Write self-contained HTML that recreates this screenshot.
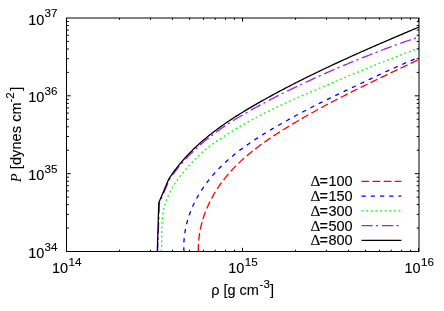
<!DOCTYPE html>
<html><head><meta charset="utf-8"><title>plot</title>
<style>
html,body{margin:0;padding:0;background:#fff;}
body{width:444px;height:311px;overflow:hidden;position:relative;}
svg text{font-family:"Liberation Sans",sans-serif;fill:#000;stroke:#000;stroke-width:0.12px;}
</style></head><body>
<svg width="444" height="311" viewBox="0 0 444 311" style="position:absolute;left:0;top:0;display:block;will-change:transform">
<path d="M198.36,251.76 L198.33,250.15 L198.34,248.55 L198.36,246.96 L198.41,245.37 L198.49,243.78 L198.59,242.20 L198.72,240.62 L198.87,239.05 L199.04,237.49 L199.24,235.93 L199.46,234.38 L199.71,232.83 L199.97,231.29 L200.27,229.76 L200.58,228.23 L200.91,226.71 L201.27,225.19 L201.65,223.69 L202.05,222.18 L202.47,220.69 L202.91,219.20 L203.38,217.72 L203.86,216.25 L204.37,214.78 L204.89,213.33 L205.43,211.88 L205.99,210.43 L206.58,209.00 L207.18,207.58 L207.80,206.16 L208.43,204.75 L209.09,203.35 L209.76,201.96 L210.46,200.57 L211.16,199.20 L211.89,197.83 L212.63,196.48 L213.39,195.13 L214.17,193.79 L214.96,192.47 L215.76,191.15 L216.59,189.84 L217.42,188.54 L218.28,187.25 L219.15,185.97 L220.03,184.71 L220.92,183.45 L221.83,182.20 L222.76,180.97 L223.70,179.74 L224.65,178.53 L225.61,177.32 L226.59,176.13 L227.57,174.95 L228.58,173.78 L229.59,172.62 L230.61,171.48 L231.65,170.34 L232.70,169.21 L233.76,168.09 L234.83,166.99 L235.91,165.89 L237.00,164.80 L238.10,163.73 L239.21,162.66 L240.33,161.60 L241.46,160.55 L242.60,159.51 L243.75,158.48 L244.90,157.46 L246.07,156.44 L247.25,155.44 L248.43,154.44 L249.62,153.45 L250.82,152.47 L252.02,151.50 L253.24,150.53 L254.46,149.57 L255.69,148.62 L256.92,147.68 L258.16,146.74 L259.41,145.81 L260.66,144.89 L261.92,143.97 L263.18,143.06 L264.45,142.16 L265.73,141.26 L267.01,140.37 L268.29,139.49 L269.58,138.61 L270.87,137.73 L272.17,136.87 L273.47,136.00 L274.77,135.14 L276.08,134.29 L277.39,133.44 L278.70,132.60 L280.02,131.76 L281.34,130.92 L282.66,130.09 L283.98,129.27 L285.30,128.44 L286.63,127.62 L287.96,126.81 L289.28,126.00 L290.61,125.19 L291.95,124.38 L293.28,123.58 L294.61,122.78 L295.95,121.99 L297.29,121.20 L298.63,120.41 L299.97,119.63 L301.31,118.85 L302.65,118.07 L304.00,117.29 L305.35,116.52 L306.69,115.76 L308.04,114.99 L309.39,114.23 L310.74,113.47 L312.10,112.71 L313.45,111.96 L314.81,111.21 L316.16,110.46 L317.52,109.71 L318.88,108.97 L320.24,108.23 L321.60,107.49 L322.96,106.76 L324.33,106.03 L325.69,105.30 L327.06,104.57 L328.43,103.84 L329.79,103.12 L331.16,102.40 L332.53,101.68 L333.90,100.96 L335.28,100.25 L336.65,99.54 L338.02,98.83 L339.40,98.12 L340.78,97.41 L342.15,96.71 L343.53,96.00 L344.91,95.30 L346.29,94.60 L347.67,93.91 L349.05,93.21 L350.44,92.52 L351.82,91.82 L353.20,91.13 L354.59,90.44 L355.97,89.75 L357.36,89.07 L358.75,88.38 L360.14,87.70 L361.53,87.01 L362.92,86.33 L364.31,85.65 L365.70,84.97 L367.09,84.29 L368.48,83.61 L369.87,82.94 L371.27,82.26 L372.66,81.59 L374.06,80.91 L375.45,80.24 L376.85,79.57 L378.24,78.89 L379.64,78.22 L381.04,77.55 L382.44,76.88 L383.84,76.21 L385.23,75.54 L386.63,74.87 L388.03,74.20 L389.43,73.54 L390.83,72.87 L392.24,72.20 L393.64,71.53 L395.04,70.86 L396.44,70.20 L397.84,69.53 L399.25,68.86 L400.65,68.19 L402.05,67.53 L403.46,66.86 L404.86,66.19 L406.26,65.52 L407.67,64.85 L409.07,64.18 L410.48,63.52 L411.88,62.85 L413.29,62.18 L414.69,61.50 L416.10,60.83 L417.50,60.16 L418.91,59.49" fill="none" stroke="#ff0000" stroke-width="1.3" stroke-dasharray="7.7,3.4" stroke-linejoin="round"/>
<path d="M183.97,251.65 L183.89,249.98 L183.83,248.32 L183.81,246.66 L183.82,245.01 L183.86,243.36 L183.93,241.72 L184.03,240.09 L184.16,238.45 L184.32,236.83 L184.51,235.21 L184.72,233.60 L184.97,231.99 L185.24,230.39 L185.53,228.80 L185.86,227.21 L186.21,225.63 L186.58,224.06 L186.98,222.49 L187.41,220.93 L187.86,219.38 L188.34,217.84 L188.84,216.30 L189.37,214.77 L189.91,213.26 L190.48,211.74 L191.08,210.24 L191.69,208.75 L192.33,207.26 L192.99,205.79 L193.67,204.32 L194.38,202.86 L195.10,201.41 L195.84,199.98 L196.60,198.55 L197.39,197.13 L198.19,195.72 L199.01,194.32 L199.84,192.93 L200.70,191.55 L201.57,190.19 L202.46,188.83 L203.37,187.48 L204.30,186.15 L205.24,184.83 L206.19,183.52 L207.17,182.22 L208.15,180.93 L209.15,179.65 L210.17,178.39 L211.20,177.14 L212.24,175.90 L213.30,174.67 L214.37,173.46 L215.45,172.25 L216.55,171.07 L217.65,169.89 L218.77,168.72 L219.90,167.57 L221.04,166.43 L222.20,165.30 L223.36,164.18 L224.53,163.08 L225.72,161.98 L226.91,160.90 L228.12,159.82 L229.33,158.76 L230.56,157.70 L231.79,156.66 L233.04,155.63 L234.29,154.60 L235.55,153.59 L236.82,152.58 L238.09,151.59 L239.38,150.60 L240.67,149.62 L241.97,148.65 L243.28,147.69 L244.59,146.74 L245.91,145.79 L247.24,144.85 L248.57,143.92 L249.91,143.00 L251.25,142.08 L252.60,141.18 L253.96,140.28 L255.32,139.38 L256.69,138.49 L258.06,137.61 L259.43,136.73 L260.81,135.86 L262.19,135.00 L263.58,134.14 L264.97,133.29 L266.36,132.44 L267.75,131.60 L269.15,130.76 L270.55,129.93 L271.95,129.10 L273.36,128.27 L274.76,127.45 L276.17,126.64 L277.58,125.82 L278.99,125.01 L280.40,124.21 L281.81,123.40 L283.23,122.60 L284.64,121.81 L286.05,121.01 L287.47,120.22 L288.88,119.44 L290.30,118.65 L291.72,117.87 L293.14,117.09 L294.56,116.32 L295.98,115.55 L297.40,114.78 L298.82,114.01 L300.25,113.25 L301.67,112.49 L303.10,111.74 L304.53,110.98 L305.96,110.23 L307.39,109.48 L308.83,108.74 L310.26,108.00 L311.70,107.26 L313.13,106.52 L314.57,105.79 L316.02,105.06 L317.46,104.33 L318.90,103.60 L320.35,102.88 L321.80,102.16 L323.25,101.44 L324.70,100.73 L326.16,100.01 L327.61,99.30 L329.07,98.60 L330.53,97.89 L331.99,97.18 L333.45,96.48 L334.91,95.78 L336.37,95.08 L337.84,94.38 L339.30,93.68 L340.77,92.99 L342.23,92.29 L343.70,91.59 L345.16,90.90 L346.63,90.20 L348.10,89.51 L349.57,88.81 L351.03,88.12 L352.50,87.43 L353.97,86.73 L355.43,86.03 L356.90,85.34 L358.37,84.64 L359.83,83.95 L361.30,83.25 L362.77,82.55 L364.23,81.86 L365.70,81.16 L367.17,80.47 L368.63,79.77 L370.10,79.08 L371.57,78.39 L373.04,77.70 L374.50,77.01 L375.97,76.32 L377.44,75.63 L378.91,74.94 L380.38,74.26 L381.85,73.57 L383.32,72.89 L384.80,72.21 L386.27,71.53 L387.74,70.85 L389.22,70.18 L390.69,69.51 L392.17,68.84 L393.65,68.17 L395.12,67.51 L396.60,66.85 L398.08,66.19 L399.57,65.53 L401.05,64.88 L402.53,64.23 L404.02,63.58 L405.51,62.94 L407.00,62.30 L408.49,61.67 L409.98,61.04 L411.47,60.41 L412.96,59.78 L414.46,59.16 L415.96,58.55 L417.46,57.94 L418.96,57.33" fill="none" stroke="#0000ff" stroke-width="1.3" stroke-dasharray="4.3,4.93" stroke-linejoin="round"/>
<path d="M161.36,251.49 L161.48,249.72 L161.58,247.95 L161.65,246.18 L161.70,244.41 L161.73,242.63 L161.75,240.86 L161.76,239.08 L161.77,237.30 L161.77,235.53 L161.77,233.75 L161.77,231.97 L161.79,230.19 L161.81,228.41 L161.85,226.64 L161.91,224.86 L162.00,223.08 L162.11,221.30 L162.24,219.53 L162.42,217.75 L162.62,215.98 L162.86,214.21 L163.14,212.45 L163.46,210.70 L163.81,208.96 L164.21,207.23 L164.66,205.51 L165.14,203.81 L165.68,202.12 L166.26,200.46 L166.88,198.80 L167.55,197.17 L168.26,195.56 L169.01,193.96 L169.79,192.37 L170.61,190.80 L171.47,189.25 L172.36,187.72 L173.28,186.20 L174.23,184.69 L175.20,183.20 L176.21,181.72 L177.23,180.26 L178.28,178.82 L179.36,177.38 L180.45,175.97 L181.55,174.56 L182.68,173.17 L183.82,171.79 L184.97,170.42 L186.13,169.07 L187.30,167.73 L188.48,166.40 L189.67,165.08 L190.86,163.77 L192.06,162.47 L193.27,161.18 L194.49,159.89 L195.72,158.62 L196.96,157.37 L198.22,156.13 L199.50,154.90 L200.79,153.70 L202.11,152.52 L203.45,151.35 L204.80,150.21 L206.17,149.08 L207.55,147.97 L208.96,146.88 L210.37,145.80 L211.80,144.74 L213.23,143.69 L214.68,142.65 L216.14,141.62 L217.60,140.61 L219.07,139.60 L220.55,138.61 L222.03,137.62 L223.51,136.64 L225.00,135.67 L226.50,134.70 L228.00,133.75 L229.50,132.80 L231.01,131.86 L232.52,130.93 L234.04,130.00 L235.56,129.08 L237.08,128.17 L238.61,127.27 L240.14,126.38 L241.68,125.49 L243.22,124.61 L244.76,123.73 L246.31,122.86 L247.86,122.00 L249.42,121.14 L250.98,120.29 L252.54,119.45 L254.10,118.61 L255.67,117.78 L257.24,116.96 L258.82,116.14 L260.39,115.32 L261.97,114.51 L263.56,113.71 L265.14,112.91 L266.73,112.11 L268.32,111.32 L269.92,110.54 L271.51,109.76 L273.11,108.98 L274.71,108.21 L276.32,107.45 L277.92,106.68 L279.53,105.92 L281.14,105.17 L282.75,104.42 L284.36,103.67 L285.98,102.93 L287.59,102.19 L289.21,101.45 L290.83,100.72 L292.45,99.98 L294.07,99.26 L295.70,98.53 L297.32,97.81 L298.95,97.09 L300.58,96.37 L302.21,95.66 L303.84,94.94 L305.47,94.23 L307.10,93.52 L308.73,92.82 L310.36,92.11 L312.00,91.41 L313.63,90.70 L315.26,90.00 L316.90,89.30 L318.53,88.60 L320.17,87.91 L321.81,87.21 L323.44,86.51 L325.08,85.82 L326.71,85.12 L328.35,84.43 L329.98,83.74 L331.62,83.05 L333.26,82.35 L334.89,81.67 L336.53,80.98 L338.17,80.29 L339.81,79.60 L341.45,78.92 L343.08,78.23 L344.72,77.55 L346.36,76.87 L348.00,76.18 L349.64,75.50 L351.28,74.82 L352.92,74.15 L354.56,73.47 L356.21,72.79 L357.85,72.12 L359.49,71.45 L361.13,70.77 L362.78,70.10 L364.42,69.43 L366.07,68.76 L367.71,68.10 L369.36,67.43 L371.00,66.76 L372.65,66.10 L374.30,65.44 L375.94,64.78 L377.59,64.12 L379.24,63.46 L380.89,62.80 L382.54,62.15 L384.19,61.49 L385.84,60.84 L387.50,60.19 L389.15,59.54 L390.80,58.89 L392.46,58.24 L394.11,57.59 L395.77,56.95 L397.43,56.31 L399.08,55.66 L400.74,55.02 L402.40,54.39 L404.06,53.75 L405.72,53.11 L407.39,52.48 L409.05,51.85 L410.71,51.22 L412.38,50.59 L414.04,49.96 L415.71,49.33 L417.37,48.71 L419.04,48.08" fill="none" stroke="#00ff00" stroke-width="1.3" stroke-dasharray="1.9,2.73" stroke-linejoin="round"/>
<path d="M157.60,251.50 L159.40,203.00 L169.60,179.31 L170.44,178.08 L171.29,176.85 L172.16,175.63 L173.03,174.43 L173.91,173.23 L174.80,172.04 L175.69,170.87 L176.60,169.70 L177.52,168.54 L178.44,167.39 L179.38,166.25 L180.32,165.12 L181.27,164.00 L182.23,162.89 L183.20,161.79 L184.18,160.70 L185.16,159.61 L186.15,158.54 L187.16,157.47 L188.16,156.41 L189.18,155.36 L190.20,154.32 L191.24,153.29 L192.28,152.26 L193.32,151.25 L194.38,150.24 L195.44,149.24 L196.50,148.25 L197.58,147.26 L198.66,146.29 L199.75,145.32 L200.84,144.36 L201.95,143.41 L203.05,142.46 L204.17,141.53 L205.29,140.60 L206.41,139.67 L207.55,138.76 L208.69,137.85 L209.83,136.95 L210.98,136.05 L212.14,135.17 L213.30,134.29 L214.46,133.41 L215.63,132.55 L216.81,131.69 L217.99,130.83 L219.18,129.99 L220.37,129.15 L221.57,128.31 L222.77,127.48 L223.97,126.66 L225.18,125.84 L226.40,125.03 L227.62,124.23 L228.84,123.43 L230.07,122.63 L231.30,121.84 L232.53,121.06 L233.77,120.28 L235.01,119.51 L236.26,118.74 L237.50,117.97 L238.76,117.21 L240.01,116.46 L241.27,115.71 L242.53,114.96 L243.79,114.22 L245.06,113.48 L246.33,112.75 L247.60,112.02 L248.87,111.29 L250.15,110.57 L251.43,109.85 L252.71,109.13 L253.99,108.42 L255.28,107.71 L256.56,107.01 L257.85,106.31 L259.14,105.61 L260.43,104.91 L261.73,104.22 L263.02,103.53 L264.32,102.84 L265.61,102.16 L266.91,101.47 L268.21,100.79 L269.51,100.12 L270.82,99.44 L272.12,98.77 L273.42,98.10 L274.73,97.43 L276.04,96.77 L277.35,96.10 L278.65,95.44 L279.96,94.78 L281.27,94.13 L282.59,93.47 L283.90,92.82 L285.21,92.17 L286.52,91.52 L287.84,90.87 L289.15,90.23 L290.47,89.58 L291.79,88.94 L293.11,88.30 L294.42,87.67 L295.74,87.03 L297.06,86.40 L298.38,85.77 L299.71,85.14 L301.03,84.51 L302.35,83.88 L303.68,83.26 L305.00,82.64 L306.33,82.02 L307.65,81.40 L308.98,80.79 L310.31,80.17 L311.64,79.56 L312.97,78.95 L314.30,78.34 L315.63,77.73 L316.96,77.13 L318.29,76.53 L319.62,75.93 L320.96,75.33 L322.29,74.73 L323.63,74.13 L324.97,73.54 L326.30,72.95 L327.64,72.36 L328.98,71.77 L330.32,71.19 L331.66,70.60 L333.00,70.02 L334.34,69.44 L335.69,68.86 L337.03,68.28 L338.37,67.71 L339.72,67.14 L341.06,66.57 L342.41,66.00 L343.76,65.43 L345.11,64.86 L346.46,64.30 L347.81,63.74 L349.16,63.18 L350.51,62.62 L351.86,62.06 L353.21,61.51 L354.57,60.95 L355.92,60.40 L357.27,59.85 L358.63,59.30 L359.99,58.76 L361.34,58.21 L362.70,57.67 L364.06,57.13 L365.42,56.59 L366.78,56.05 L368.14,55.52 L369.50,54.99 L370.87,54.45 L372.23,53.92 L373.59,53.40 L374.96,52.87 L376.32,52.34 L377.69,51.82 L379.06,51.30 L380.42,50.78 L381.79,50.26 L383.16,49.75 L384.53,49.23 L385.90,48.72 L387.27,48.21 L388.65,47.70 L390.02,47.19 L391.39,46.68 L392.77,46.18 L394.14,45.68 L395.52,45.18 L396.90,44.68 L398.27,44.18 L399.65,43.68 L401.03,43.19 L402.41,42.70 L403.79,42.21 L405.17,41.72 L406.55,41.23 L407.94,40.74 L409.32,40.26 L410.70,39.78 L412.09,39.30 L413.47,38.82 L414.86,38.34 L416.25,37.86 L417.63,37.39 L419.02,36.92" fill="none" stroke="#a020f0" stroke-width="1.3" stroke-dasharray="11.2,3.3,2.2,3.8" stroke-dashoffset="2.6" stroke-linejoin="round"/>
<path d="M157.30,251.50 L158.80,202.70 L168.90,178.80 L169.73,177.55 L170.57,176.32 L171.42,175.09 L172.28,173.87 L173.14,172.65 L174.02,171.45 L174.91,170.25 L175.81,169.06 L176.72,167.88 L177.64,166.71 L178.56,165.54 L179.50,164.38 L180.45,163.24 L181.41,162.10 L182.37,160.97 L183.35,159.84 L184.33,158.73 L185.33,157.62 L186.33,156.53 L187.35,155.44 L188.37,154.36 L189.40,153.29 L190.44,152.22 L191.49,151.17 L192.55,150.12 L193.61,149.09 L194.68,148.05 L195.76,147.03 L196.85,146.02 L197.95,145.01 L199.05,144.01 L200.16,143.02 L201.28,142.04 L202.40,141.06 L203.53,140.09 L204.66,139.13 L205.80,138.18 L206.95,137.23 L208.10,136.29 L209.26,135.36 L210.43,134.43 L211.59,133.51 L212.77,132.60 L213.95,131.70 L215.13,130.80 L216.32,129.90 L217.51,129.02 L218.71,128.14 L219.91,127.27 L221.12,126.40 L222.33,125.54 L223.55,124.68 L224.77,123.83 L225.99,122.99 L227.22,122.15 L228.45,121.31 L229.69,120.49 L230.92,119.66 L232.17,118.84 L233.41,118.03 L234.66,117.22 L235.91,116.42 L237.17,115.62 L238.43,114.83 L239.69,114.04 L240.95,113.25 L242.22,112.47 L243.49,111.69 L244.76,110.92 L246.04,110.15 L247.32,109.38 L248.60,108.62 L249.88,107.86 L251.16,107.11 L252.45,106.35 L253.74,105.60 L255.03,104.86 L256.32,104.12 L257.61,103.38 L258.91,102.64 L260.20,101.90 L261.50,101.17 L262.80,100.44 L264.10,99.71 L265.40,98.99 L266.70,98.27 L268.00,97.55 L269.31,96.83 L270.61,96.11 L271.92,95.40 L273.23,94.69 L274.54,93.98 L275.85,93.27 L277.16,92.57 L278.47,91.87 L279.78,91.17 L281.10,90.47 L282.41,89.77 L283.73,89.08 L285.05,88.39 L286.37,87.70 L287.69,87.01 L289.01,86.32 L290.33,85.64 L291.65,84.96 L292.97,84.28 L294.30,83.60 L295.62,82.92 L296.95,82.25 L298.28,81.58 L299.61,80.91 L300.93,80.24 L302.26,79.57 L303.60,78.91 L304.93,78.24 L306.26,77.58 L307.59,76.92 L308.93,76.27 L310.26,75.61 L311.60,74.96 L312.94,74.30 L314.27,73.65 L315.61,73.00 L316.95,72.36 L318.29,71.71 L319.63,71.07 L320.97,70.42 L322.32,69.78 L323.66,69.14 L325.00,68.50 L326.35,67.87 L327.69,67.23 L329.04,66.60 L330.39,65.97 L331.73,65.34 L333.08,64.71 L334.43,64.08 L335.78,63.45 L337.13,62.83 L338.48,62.20 L339.83,61.58 L341.19,60.96 L342.54,60.34 L343.89,59.72 L345.24,59.10 L346.60,58.49 L347.95,57.87 L349.31,57.26 L350.67,56.64 L352.02,56.03 L353.38,55.42 L354.74,54.81 L356.10,54.20 L357.45,53.60 L358.81,52.99 L360.17,52.39 L361.53,51.78 L362.89,51.18 L364.26,50.58 L365.62,49.98 L366.98,49.38 L368.34,48.78 L369.70,48.18 L371.07,47.58 L372.43,46.99 L373.79,46.39 L375.16,45.79 L376.52,45.20 L377.89,44.61 L379.25,44.02 L380.62,43.42 L381.99,42.83 L383.35,42.24 L384.72,41.65 L386.09,41.06 L387.45,40.48 L388.82,39.89 L390.19,39.30 L391.56,38.72 L392.93,38.13 L394.29,37.55 L395.66,36.96 L397.03,36.38 L398.40,35.79 L399.77,35.21 L401.14,34.63 L402.51,34.05 L403.88,33.47 L405.25,32.88 L406.62,32.30 L407.99,31.72 L409.36,31.14 L410.73,30.56 L412.10,29.99 L413.47,29.41 L414.85,28.83 L416.22,28.25 L417.59,27.67 L418.96,27.10" fill="none" stroke="#000000" stroke-width="1.3" stroke-linejoin="round"/>
<path d="M361.5,181.35 L401.4,181.35" fill="none" stroke="#ff0000" stroke-width="1.3" stroke-dasharray="7.7,3.4"/>
<path d="M361.5,196.12 L401.4,196.12" fill="none" stroke="#0000ff" stroke-width="1.3" stroke-dasharray="4.3,4.93"/>
<path d="M361.5,210.89 L401.4,210.89" fill="none" stroke="#00ff00" stroke-width="1.3" stroke-dasharray="1.9,2.73"/>
<path d="M361.5,225.66 L401.4,225.66" fill="none" stroke="#a020f0" stroke-width="1.3" stroke-dasharray="11.2,3.3,2.2,3.8"/>
<path d="M361.5,240.43 L401.4,240.43" fill="none" stroke="#000000" stroke-width="1.3"/>
<path d="M119.49,251.5 v-1.8 M119.49,18.0 v1.8 M150.49,251.5 v-1.8 M150.49,18.0 v1.8 M172.48,251.5 v-1.8 M172.48,18.0 v1.8 M189.54,251.5 v-1.8 M189.54,18.0 v1.8 M203.48,251.5 v-1.8 M203.48,18.0 v1.8 M215.26,251.5 v-1.8 M215.26,18.0 v1.8 M225.47,251.5 v-1.8 M225.47,18.0 v1.8 M234.48,251.5 v-1.8 M234.48,18.0 v1.8 M242.53,251.5 v-3.7 M242.53,18.0 v3.7 M295.52,251.5 v-1.8 M295.52,18.0 v1.8 M326.52,251.5 v-1.8 M326.52,18.0 v1.8 M348.51,251.5 v-1.8 M348.51,18.0 v1.8 M365.57,251.5 v-1.8 M365.57,18.0 v1.8 M379.51,251.5 v-1.8 M379.51,18.0 v1.8 M391.29,251.5 v-1.8 M391.29,18.0 v1.8 M401.50,251.5 v-1.8 M401.50,18.0 v1.8 M410.51,251.5 v-1.8 M410.51,18.0 v1.8 M418.56,251.5 v-3.7 M418.56,18.0 v3.7 M471.55,251.5 v-1.8 M471.55,18.0 v1.8 M502.55,251.5 v-1.8 M502.55,18.0 v1.8 M524.54,251.5 v-1.8 M524.54,18.0 v1.8 M541.60,251.5 v-1.8 M541.60,18.0 v1.8 M555.54,251.5 v-1.8 M555.54,18.0 v1.8 M567.32,251.5 v-1.8 M567.32,18.0 v1.8 M577.53,251.5 v-1.8 M577.53,18.0 v1.8 M586.54,251.5 v-1.8 M586.54,18.0 v1.8 M66.5,228.07 h2.3 M419.0,228.07 h-2.3 M66.5,214.36 h2.3 M419.0,214.36 h-2.3 M66.5,204.64 h2.3 M419.0,204.64 h-2.3 M66.5,197.10 h2.3 M419.0,197.10 h-2.3 M66.5,190.93 h2.3 M419.0,190.93 h-2.3 M66.5,185.72 h2.3 M419.0,185.72 h-2.3 M66.5,181.21 h2.3 M419.0,181.21 h-2.3 M66.5,177.23 h2.3 M419.0,177.23 h-2.3 M66.5,173.67 h4.2 M419.0,173.67 h-4.2 M66.5,150.24 h2.3 M419.0,150.24 h-2.3 M66.5,136.53 h2.3 M419.0,136.53 h-2.3 M66.5,126.81 h2.3 M419.0,126.81 h-2.3 M66.5,119.26 h2.3 M419.0,119.26 h-2.3 M66.5,113.10 h2.3 M419.0,113.10 h-2.3 M66.5,107.89 h2.3 M419.0,107.89 h-2.3 M66.5,103.38 h2.3 M419.0,103.38 h-2.3 M66.5,99.39 h2.3 M419.0,99.39 h-2.3 M66.5,95.83 h4.2 M419.0,95.83 h-4.2 M66.5,72.40 h2.3 M419.0,72.40 h-2.3 M66.5,58.70 h2.3 M419.0,58.70 h-2.3 M66.5,48.97 h2.3 M419.0,48.97 h-2.3 M66.5,41.43 h2.3 M419.0,41.43 h-2.3 M66.5,35.27 h2.3 M419.0,35.27 h-2.3 M66.5,30.06 h2.3 M419.0,30.06 h-2.3 M66.5,25.54 h2.3 M419.0,25.54 h-2.3 M66.5,21.56 h2.3 M419.0,21.56 h-2.3" fill="none" stroke="#000" stroke-width="1"/>
<rect x="66.5" y="18.0" width="352.50" height="233.50" fill="none" stroke="#000" stroke-width="1"/>

<text x="28.2" y="24.55" font-size="14.5">10</text>
<text x="44.5" y="17.25" font-size="11.6">37</text>
<text x="28.2" y="102.38" font-size="14.5">10</text>
<text x="44.5" y="95.08" font-size="11.6">36</text>
<text x="28.2" y="180.22" font-size="14.5">10</text>
<text x="44.5" y="172.92" font-size="11.6">35</text>
<text x="28.2" y="258.05" font-size="14.5">10</text>
<text x="44.5" y="250.75" font-size="11.6">34</text>
<text x="51.90" y="273.00" font-size="14.5">10</text>
<text x="68.60" y="265.50" font-size="11.6">14</text>
<text x="228.15" y="273.00" font-size="14.5">10</text>
<text x="244.85" y="265.50" font-size="11.6">15</text>
<text x="404.40" y="273.00" font-size="14.5">10</text>
<text x="421.10" y="265.50" font-size="11.6">16</text>
<text x="211.2" y="294.6" font-size="14.5">ρ [g cm</text>
<text x="259.6" y="287.9" font-size="11.6">-3</text>
<text x="269.9" y="294.6" font-size="14.5">]</text>
<g transform="translate(20.5,182.2) rotate(-90)"><text x="0" y="0" font-size="14.5" letter-spacing="0.08"><tspan style="font-family:'Liberation Serif',serif;font-style:italic;stroke:none">P</tspan> [dynes cm</text><text x="79.6" y="-6.7" font-size="11.6">-2</text><text x="91.5" y="0" font-size="14.5">]</text></g>
<text x="352.7" y="186.20" font-size="14.5" text-anchor="end">100</text>
<text x="319.6" y="186.20" font-size="14.5">=</text>
<text x="310.4" y="186.35" font-size="15.3" font-family="Liberation Serif" style="font-family:'Liberation Serif',serif">Δ</text>
<text x="352.7" y="200.97" font-size="14.5" text-anchor="end">150</text>
<text x="319.6" y="200.97" font-size="14.5">=</text>
<text x="310.4" y="201.12" font-size="15.3" font-family="Liberation Serif" style="font-family:'Liberation Serif',serif">Δ</text>
<text x="352.7" y="215.74" font-size="14.5" text-anchor="end">300</text>
<text x="319.6" y="215.74" font-size="14.5">=</text>
<text x="310.4" y="215.89" font-size="15.3" font-family="Liberation Serif" style="font-family:'Liberation Serif',serif">Δ</text>
<text x="352.7" y="230.51" font-size="14.5" text-anchor="end">500</text>
<text x="319.6" y="230.51" font-size="14.5">=</text>
<text x="310.4" y="230.66" font-size="15.3" font-family="Liberation Serif" style="font-family:'Liberation Serif',serif">Δ</text>
<text x="352.7" y="245.28" font-size="14.5" text-anchor="end">800</text>
<text x="319.6" y="245.28" font-size="14.5">=</text>
<text x="310.4" y="245.43" font-size="15.3" font-family="Liberation Serif" style="font-family:'Liberation Serif',serif">Δ</text>
</svg>
</body></html>
